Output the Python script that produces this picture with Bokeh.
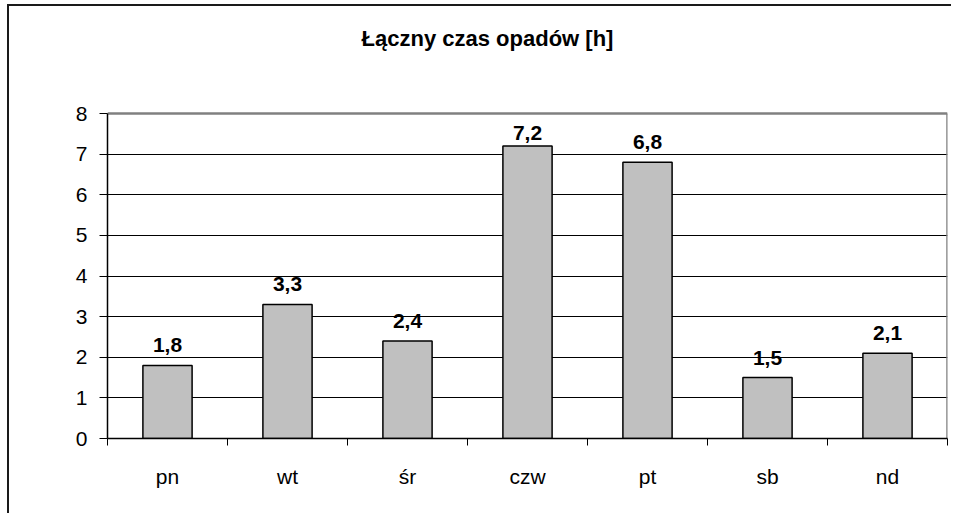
from bokeh.plotting import figure
from bokeh.models import Range1d, FixedTicker, ColumnDataSource, Label
from bokeh.embed import file_html
from bokeh.resources import INLINE

title_text = "Łączny czas opadów [h]"
days = ["pn", "wt", "śr", "czw", "pt", "sb", "nd"]
hours = [1.8, 3.3, 2.4, 7.2, 6.8, 1.5, 2.1]
labels = ["1,8", "3,3", "2,4", "7,2", "6,8", "1,5", "2,1"]
y_ticks = [0, 1, 2, 3, 4, 5, 6, 7, 8]

FONT = "Liberation Sans"
W, H = 944, 509
MB_L, MB_R, MB_T, MB_B = 98, 6, 0, 77
PLOT_H = 325            # height of the value area (0..8) in px
frame_w = W - MB_L - MB_R
frame_h = H - MB_T - MB_B
y_max = 8
ppu = PLOT_H / y_max
ppx = frame_w / len(days)
y_top = y_max * frame_h / PLOT_H

centers = [i + 1 for i in range(len(days))]
bounds = [i + 0.5 for i in range(len(days) + 1)]
x_lo, x_hi = bounds[0], bounds[-1]
offs = [-min(20, (y_max - v) * ppu - 19) for v in hours]

src = ColumnDataSource(dict(x=centers, top=hours, lab=labels, off=offs))

p = figure(width=W, height=H, output_backend="svg", toolbar_location=None,
           x_range=Range1d(x_lo, x_hi), y_range=Range1d(0, y_top),
           min_border_left=MB_L, min_border_right=MB_R,
           min_border_top=MB_T, min_border_bottom=MB_B)
p.styles = {"border-left": "2px solid #1a1a1a", "border-top": "2px solid #1a1a1a",
            "margin-left": "7px", "margin-top": "4px"}

p.background_fill_color = "white"
p.border_fill_color = "white"
p.outline_line_color = None

# grey border of the plot area (top and right)
p.segment(x0=[x_lo, x_hi], y0=[y_max, 0], x1=[x_hi, x_hi], y1=[y_max, y_max],
          line_color="#808080", line_width=2.5)

# chart title: centred 380 px right of the plot area's left edge, 75 px above its top
p.add_layout(Label(x=x_lo + 380 / ppx, y=y_max + 75 / ppu,
                   text=title_text, text_align="center", text_baseline="middle",
                   text_font=FONT, text_font_size="22px", text_font_style="bold",
                   text_color="black"))

p.vbar(x="x", top="top", width=0.41, source=src, fill_color="#c0c0c0",
       line_color="black", line_width=1.5)
p.text(x="x", y="top", text="lab", y_offset="off", source=src,
       text_align="center", text_baseline="alphabetic",
       text_font={"value": FONT}, text_font_size={"value": "21px"},
       text_font_style="bold", text_color="black")

# y axis
ya = p.yaxis[0]
ya.ticker = FixedTicker(ticks=y_ticks)
ya.bounds = (0, y_max)
ya.major_tick_out = 8
ya.major_tick_in = 0
ya.minor_tick_line_color = None
ya.axis_line_color = "black"
ya.axis_line_width = 1.5
ya.major_tick_line_color = "black"
ya.major_label_text_font = FONT
ya.major_label_text_font_size = "21px"
ya.major_label_text_color = "black"
ya.major_label_standoff = 12

# x axis
xa = p.xaxis[0]
xa.ticker = FixedTicker(ticks=centers, minor_ticks=bounds)
xa.major_label_overrides = {c: d for c, d in zip(centers, days)}
xa.major_tick_out = 0
xa.major_tick_in = 0
xa.minor_tick_out = 7
xa.minor_tick_in = 0
xa.minor_tick_line_color = "black"
xa.axis_line_color = "black"
xa.axis_line_width = 1.5
xa.major_label_text_font = FONT
xa.major_label_text_font_size = "21px"
xa.major_label_text_color = "black"
xa.major_label_standoff = 19

p.xgrid.grid_line_color = None
p.ygrid.ticker = FixedTicker(ticks=y_ticks[1:-1])
p.ygrid.grid_line_color = "black"
p.ygrid.grid_line_width = 1

open("out.html", "w").write(file_html(p, INLINE))
